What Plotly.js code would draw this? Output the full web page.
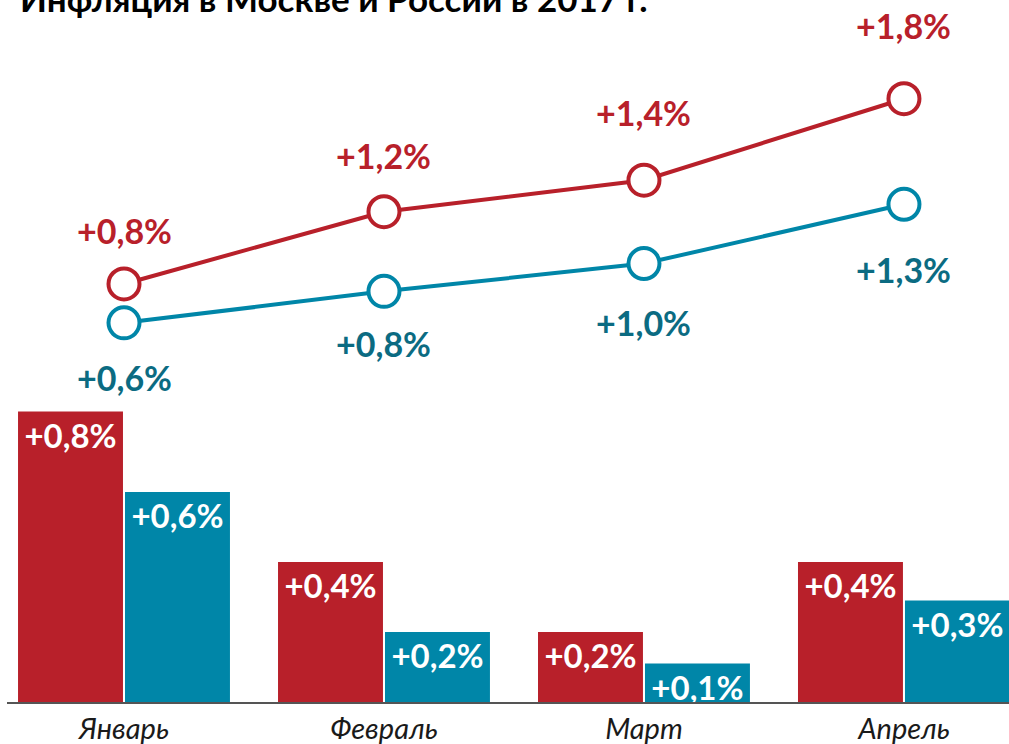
<!DOCTYPE html>
<html><head><meta charset="utf-8">
<script src="https://cdn.plot.ly/plotly-3.0.1.min.js"></script>
<style>html,body{margin:0;padding:0;background:#fff}</style>
</head><body><div id="chart" style="width:1009px;height:744px"></div>
<script>
const months = ['Январь', 'Февраль', 'Март', 'Апрель'];
// monthly inflation (bars)
const moscowMonthly = [0.83, 0.40, 0.20, 0.40];
const russiaMonthly = [0.60, 0.20, 0.11, 0.29];
const moscowMonthlyLabels = ['+0,8%', '+0,4%', '+0,2%', '+0,4%'];
const russiaMonthlyLabels = ['+0,6%', '+0,2%', '+0,1%', '+0,3%'];
// cumulative inflation since start of year (lines)
const moscowCumulative = [0.83, 1.22, 1.39, 1.83];
const russiaCumulative = [0.62, 0.79, 0.94, 1.26];
const moscowCumulativeLabels = ['+0,8%', '+1,2%', '+1,4%', '+1,8%'];
const russiaCumulativeLabels = ['+0,6%', '+0,8%', '+1,0%', '+1,3%'];

// label offsets (px) from the markers – styling only
const moscowLabelShift = [53, 56, 68, 73];
const russiaLabelShift = [-55, -52, -59, -65];

const RED = '#B8202A', TEAL = '#0086A8', TEAL_TXT = '#0B6B82';
const FONT = 'Lato, "Open Sans", sans-serif';

const traces = [
  {type:'bar', x: months, y: moscowMonthly, text: moscowMonthlyLabels, texttemplate:'%{text}',
   textposition:'inside', insidetextanchor:'end', textangle:0, constraintext:'none',
   textfont:{family:FONT, size:33, color:'#fff', weight:700},
   marker:{color:RED}, hoverinfo:'skip', cliponaxis:false},
  {type:'bar', x: months, y: russiaMonthly, text: russiaMonthlyLabels, texttemplate:'%{text}',
   textposition:'inside', insidetextanchor:'end', textangle:0, constraintext:'none',
   textfont:{family:FONT, size:33, color:'#fff', weight:700},
   marker:{color:TEAL}, hoverinfo:'skip', cliponaxis:false},
  {type:'scatter', mode:'lines+markers', x: months, y: moscowCumulative, yaxis:'y2',
   line:{color:RED, width:4}, marker:{size:31, color:'#fff', line:{color:RED, width:4}},
   cliponaxis:false, hoverinfo:'skip'},
  {type:'scatter', mode:'lines+markers', x: months, y: russiaCumulative, yaxis:'y2',
   line:{color:TEAL, width:4}, marker:{size:31, color:'#fff', line:{color:TEAL, width:4}},
   cliponaxis:false, hoverinfo:'skip'}
];

const annotations = [];
months.forEach((m, i) => {
  annotations.push({x:m, y:moscowCumulative[i], xref:'x', yref:'y2', text:moscowCumulativeLabels[i],
    showarrow:false, yshift:moscowLabelShift[i], font:{family:FONT, size:34, color:RED, weight:700}});
  annotations.push({x:m, y:russiaCumulative[i], xref:'x', yref:'y2', text:russiaCumulativeLabels[i],
    showarrow:false, yshift:russiaLabelShift[i], font:{family:FONT, size:34, color:TEAL_TXT, weight:700}});
});

const layout = {
  width:1009, height:744,
  margin:{l:7, r:0, t:0, b:42},
  paper_bgcolor:'#fff', plot_bgcolor:'#fff',
  showlegend:false,
  barmode:'group', bargap:0.177, bargroupgap:0.019,
  title:{text:'<b>Инфляция в Москве и России в 2017 г.</b>', x:20/1009, xanchor:'left',
         y:1, yanchor:'middle', yref:'container', pad:{t:0,b:0,l:0,r:0},
         font:{family:FONT, size:35, color:'#000'}},
  xaxis:{range:[-0.45, 3.404], showgrid:false, zeroline:false, showline:true,
         linecolor:'#555', linewidth:2, ticks:'', ticklabelstandoff:0,
         tickvals: months, ticktext: months.map(m => '<i>' + m + '</i>'),
         tickfont:{family:FONT, size:29, color:'#1a1a1a'}, fixedrange:true},
  yaxis:{range:[0, 2.006], visible:false, showgrid:false, zeroline:false, fixedrange:true},
  yaxis2:{range:[-1.427, 2.363], overlaying:'y', visible:false, showgrid:false, zeroline:false, fixedrange:true},
  annotations: annotations
};

Plotly.newPlot('chart', traces, layout, {displayModeBar:false, staticPlot:true});
</script></body></html>
